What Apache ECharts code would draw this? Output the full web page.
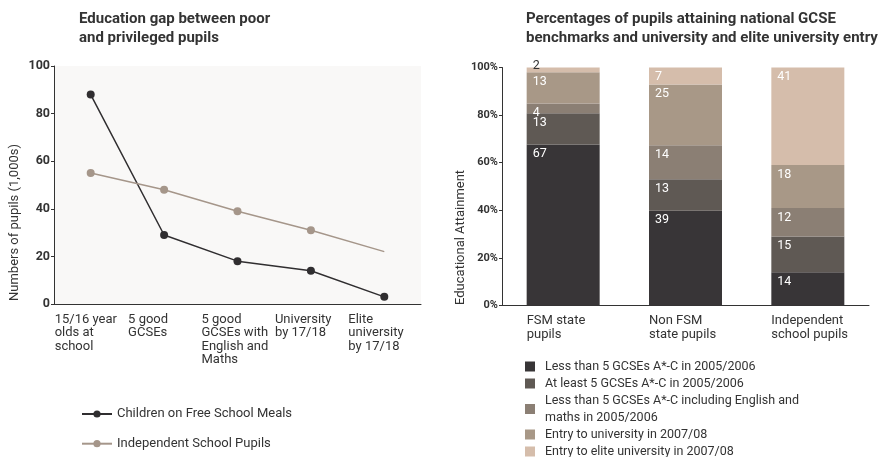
<!DOCTYPE html>
<html><head><meta charset="utf-8">
<script src="https://cdn.jsdelivr.net/npm/echarts@6/dist/echarts.min.js"></script>
<style>html,body{margin:0;padding:0;background:#fff}#c{width:879px;height:457px}</style>
</head><body><div id="c"></div>
<script>
// ---- Left chart data ----
const lineCategories = ['15/16 year\nolds at\nschool', '5 good\nGCSEs', '5 good\nGCSEs with\nEnglish and\nMaths', 'University\nby 17/18', 'Elite\nuniversity\nby 17/18'];
const lineSeriesNames = ['Children on Free School Meals', 'Independent School Pupils'];
const fsmPupils = [88, 29, 18, 14, 3];
const independentPupils = [55, 48, 39, 31, 22];

// ---- Right chart data ----
const barCategories = ['FSM state\npupils', 'Non FSM\nstate pupils', 'Independent\nschool pupils'];
const barSeriesNames = [
  'Less than 5 GCSEs A*-C in 2005/2006',
  'At least 5 GCSEs A*-C in 2005/2006',
  'Less than 5 GCSEs A*-C including English and maths in 2005/2006',
  'Entry to university in 2007/08',
  'Entry to elite university in 2007/08'
];
const lessThan5Gcse = [67, 39, 14];
const atLeast5Gcse = [13, 13, 15];
const lessThan5EngMaths = [4, 14, 12];
const universityEntry = [13, 25, 18];
const eliteUniversityEntry = [2, 7, 41];

const barValues = [lessThan5Gcse, atLeast5Gcse, lessThan5EngMaths, universityEntry, eliteUniversityEntry];
const barColors = ['#383537', '#5f5954', '#8b7f74', '#a89887', '#d5bdab'];
const TXT = '#333333';
const FONT = 'Roboto';

// 100% stacked: each bar is shown as share of its column total
const totals = barCategories.map((_, i) => barValues.reduce((s, arr) => s + arr[i], 0));

function leftLabel(v) {
  return v.split('\n').map(s => '{a|' + s + '}').join('\n');
}

const chart = echarts.init(document.getElementById('c'), null, {renderer: 'canvas'});

const barSeries = barValues.map((arr, k) => ({
  name: barSeriesNames[k],
  type: 'bar',
  xAxisIndex: 1,
  yAxisIndex: 1,
  stack: 'att',
  barWidth: 73,
  itemStyle: {color: barColors[k]},
  label: {
    show: true,
    position: 'insideTopLeft',
    distance: 6,
    offset: [0, -3],
    color: '#ffffff',
    fontSize: 12.5,
    fontFamily: FONT,
    formatter: p => String(arr[p.dataIndex])
  },
  data: arr.map((v, i) => {
    const item = {value: v / totals[i] * 100};
    if (v < 3) item.label = {position: 'insideLeft', offset: [0, -4], color: TXT};
    return item;
  })
}));

const option = {
  animation: false,
  textStyle: {fontFamily: FONT, color: TXT},
  title: [
    {text: 'Education gap between poor\nand privileged pupils', left: 79, top: 10, padding: 0,
     textStyle: {fontSize: 15, fontWeight: 'bold', lineHeight: 19, color: TXT, fontFamily: FONT}},
    {text: 'Percentages of pupils attaining national GCSE\nbenchmarks and university and elite university entry', left: 526, top: 10, padding: 0,
     textStyle: {fontSize: 15, fontWeight: 'bold', lineHeight: 19, color: TXT, fontFamily: FONT}}
  ],
  grid: [
    {left: 54, top: 66, width: 367, height: 238, show: true, backgroundColor: '#f9f8f7', borderWidth: 0},
    {left: 502, top: 67.5, width: 367, height: 238}
  ],
  xAxis: [
    {type: 'category', gridIndex: 0, data: lineCategories, boundaryGap: true,
     axisLine: {lineStyle: {color: TXT, width: 1}},
     axisTick: {inside: true, length: 5, lineStyle: {color: TXT}},
     axisLabel: {interval: 0, margin: 9, color: TXT, formatter: leftLabel,
       rich: {a: {width: 72, align: 'left', fontSize: 13, lineHeight: 13.3, color: TXT, fontFamily: FONT}}}},
    {type: 'category', gridIndex: 1, data: barCategories, boundaryGap: true,
     axisLine: {lineStyle: {color: TXT, width: 1}},
     axisTick: {inside: true, length: 5, lineStyle: {color: TXT}},
     axisLabel: {interval: 0, margin: 9, color: TXT, formatter: leftLabel,
       rich: {a: {width: 73, align: 'left', fontSize: 13, lineHeight: 13.3, color: TXT, fontFamily: FONT}}}}
  ],
  yAxis: [
    {type: 'value', gridIndex: 0, min: 0, max: 100, interval: 20,
     axisLine: {show: true, lineStyle: {color: TXT}},
     axisTick: {show: true, length: 3, lineStyle: {color: TXT}},
     splitLine: {show: false},
     axisLabel: {margin: 4, fontSize: 12.5, fontWeight: 'bold', color: TXT}},
    {type: 'value', gridIndex: 1, min: 0, max: 100, interval: 20,
     axisLine: {show: true, lineStyle: {color: TXT}},
     axisTick: {show: true, length: 3, lineStyle: {color: TXT}},
     splitLine: {show: false},
     axisLabel: {margin: 4, fontSize: 11, fontWeight: 'bold', color: TXT, formatter: '{value}%'}}
  ],
  legend: [
    {data: lineSeriesNames, orient: 'vertical', left: 81, top: 407, padding: 0,
     itemWidth: 30, itemHeight: 9, itemGap: 15.7,
     textStyle: {fontSize: 13, lineHeight: 14, color: TXT, fontFamily: FONT}},
    {data: barSeriesNames, orient: 'vertical', left: 525, top: 358, height: 120, padding: 0,
     itemWidth: 10, itemHeight: 10, itemGap: 0, icon: 'rect',
     formatter: n => n.replace('English and maths', 'English and\nmaths').split('\n').map(s => '{t|' + s + '}').join('\n'),
     textStyle: {fontSize: 12.5, lineHeight: 17, color: TXT, fontFamily: FONT,
       rich: {t: {padding: [0, 0, 0, 5], fontSize: 12.5, lineHeight: 17, color: TXT, fontFamily: FONT}}}}
  ],
  graphic: [
    {type: 'text', x: 15, y: 301, rotation: Math.PI / 2,
     style: {text: 'Numbers of pupils (1,000s)', fontSize: 13, fontFamily: FONT, fill: TXT, align: 'left', verticalAlign: 'middle'}},
    {type: 'text', x: 461, y: 305, rotation: Math.PI / 2,
     style: {text: 'Educational Attainment', fontSize: 13, fontFamily: FONT, fill: TXT, align: 'left', verticalAlign: 'middle'}}
  ],
  series: [
    {name: lineSeriesNames[0], type: 'line', xAxisIndex: 0, yAxisIndex: 0, data: fsmPupils,
     symbol: 'circle', symbolSize: 8, color: '#302e30', lineStyle: {width: 1.5, color: '#302e30'}},
    {name: lineSeriesNames[1], type: 'line', xAxisIndex: 0, yAxisIndex: 0,
     data: independentPupils.map((v, i) => i === independentPupils.length - 1 ? {value: v, symbol: 'none'} : v),
     symbol: 'circle', symbolSize: 8, color: '#a5968a', lineStyle: {width: 1.5, color: '#a5968a'}}
  ].concat(barSeries)
};
chart.setOption(option);
</script></body></html>
